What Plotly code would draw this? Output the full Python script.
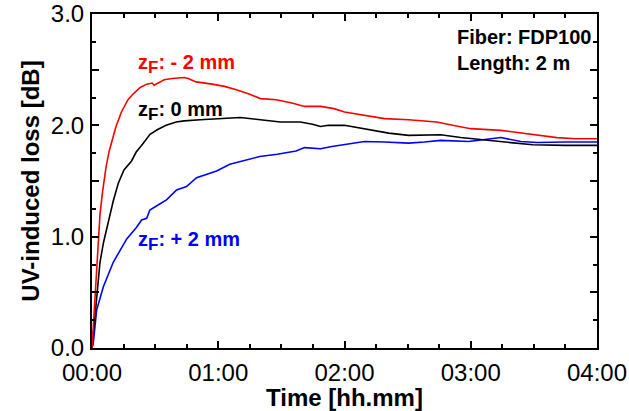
import plotly.graph_objects as go

# Time in minutes, UV-induced loss in dB
t_red = [0, 0.6, 1.5, 2.5, 3.8, 5, 6.7, 8.2, 10, 11.4, 14, 17.1, 20, 22.9, 26, 28.6, 29.5, 32, 34.3, 38,
         43.8, 45.7, 49.5, 57.1, 63, 68.6, 75, 80, 87.6, 95, 101, 108.6, 115, 120, 131.4, 139, 150.5,
         163.8, 171.4, 180, 194.3, 203.8, 212, 221, 230, 240]
v_red = [0, 0.2, 0.55, 0.88, 1.2, 1.4, 1.63, 1.77, 1.9, 1.99, 2.12, 2.23, 2.29, 2.34, 2.37, 2.38, 2.36, 2.39,
         2.41, 2.42, 2.43, 2.42, 2.39, 2.37, 2.35, 2.32, 2.28, 2.24, 2.23, 2.2, 2.17, 2.17, 2.15, 2.12,
         2.08, 2.06, 2.05, 2.03, 2.0, 1.97, 1.955, 1.93, 1.91, 1.89, 1.88, 1.88]

t_black = [0, 0.6, 2, 3.8, 5.5, 7, 10.1, 12.5, 15.2, 18.8, 21, 24, 27.6, 31, 35.2, 40, 43.8, 51.4, 62.9,
           70.5, 80, 89.5, 99, 104.8, 108.6, 112.4, 120, 131.4, 141, 150.5, 158, 165.7, 175.2, 184.8,
           194.3, 209.5, 225, 240]
v_black = [0, 0.13, 0.45, 0.77, 0.95, 1.07, 1.32, 1.48, 1.6, 1.68, 1.76, 1.83, 1.92, 1.96, 2.0, 2.03,
           2.04, 2.05, 2.06, 2.07, 2.05, 2.03, 2.03, 2.01, 1.99, 2.0, 2.0, 1.96, 1.93, 1.91, 1.915, 1.915,
           1.89, 1.87, 1.85, 1.825, 1.82, 1.82]

t_blue = [0, 0.6, 2.2, 5.4, 10.1, 16.5, 21, 23.6, 26, 27.5, 31, 35.4, 40.2, 44.9, 49.7, 55, 59.2, 65.5,
          72, 79.7, 88, 97, 101, 108.6, 114, 120, 129.5, 139, 150.5, 158, 165.7, 179, 186.7, 194.3,
          203.8, 211.4, 225, 240]
v_blue = [0, 0.04, 0.34, 0.55, 0.77, 0.98, 1.08, 1.15, 1.165, 1.24, 1.28, 1.33, 1.42, 1.45, 1.53, 1.56,
          1.59, 1.65, 1.68, 1.72, 1.74, 1.77, 1.80, 1.79, 1.81, 1.83, 1.855, 1.85, 1.84, 1.85, 1.865,
          1.855, 1.87, 1.89, 1.855, 1.846, 1.85, 1.85]

x_tickvals = [0, 60, 120, 180, 240]
x_ticktext = ["00:00", "01:00", "02:00", "03:00", "04:00"]
y_tickvals = [0, 0.5, 1.0, 1.5, 2.0, 2.5, 3.0]
y_ticktext = ["0.0", "", "1.0", "", "2.0", "", "3.0"]

FONT = "Liberation Sans, Arial, sans-serif"

fig = go.Figure()
for t, v, c in [(t_blue, v_blue, "#0000ff"), (t_black, v_black, "#000000"), (t_red, v_red, "#ff0000")]:
    fig.add_trace(go.Scatter(x=t, y=v, mode="lines", line=dict(color=c, width=1.6), showlegend=False))

axis_common = dict(showline=True, linecolor="black", linewidth=2, mirror="ticks", ticks="inside",
                   tickcolor="black", tickwidth=1.5, ticklen=7, showgrid=False, zeroline=False,
                   automargin=False,
                   tickfont=dict(family=FONT, size=24, color="black"))

fig.update_xaxes(range=[0, 240], tickvals=x_tickvals, ticktext=x_ticktext, ticklabelstandoff=2,
                 minor=dict(dtick=15, ticks="inside", ticklen=4, tickcolor="black", tickwidth=1.5),
                 title=dict(text="<b>Time [hh.mm]</b>", font=dict(family=FONT, size=24, color="black"),
                            standoff=0),
                 **axis_common)
fig.update_yaxes(range=[0, 3.0], tickvals=y_tickvals, ticktext=y_ticktext, ticklabelstandoff=1,
                 minor=dict(dtick=0.25, ticks="inside", ticklen=4, tickcolor="black", tickwidth=1.5),
                 title=dict(text="<b>UV-induced loss [dB]</b>", font=dict(family=FONT, size=24, color="black"),
                            standoff=4),
                 **axis_common)

SUB = "<sub><span style='font-size:17px'>F</span></sub>"
anns = [
    ("<b>z" + SUB + ": - 2 mm</b>", 21, 2.55, "#ff0000"),
    ("<b>z" + SUB + ": 0 mm</b>", 21, 2.13, "#000000"),
    ("<b>z" + SUB + ": + 2 mm</b>", 21, 0.96, "#0000ff"),
]
for text, x, y, c in anns:
    fig.add_annotation(x=x, y=y, xref="x", yref="y", text=text, showarrow=False, xanchor="left",
                       yanchor="middle", font=dict(family=FONT, size=20, color=c))

fig.add_annotation(x=172.5, y=2.79, xref="x", yref="y", text="<b>Fiber: FDP100</b>", showarrow=False,
                   xanchor="left", yanchor="middle", font=dict(family=FONT, size=20, color="black"))
fig.add_annotation(x=172.5, y=2.56, xref="x", yref="y", text="<b>Length: 2 m</b>", showarrow=False,
                   xanchor="left", yanchor="middle", font=dict(family=FONT, size=20, color="black"))

fig.update_layout(width=629, height=411, margin=dict(l=92, r=32, t=14, b=63),
                  plot_bgcolor="white", paper_bgcolor="white")

fig.write_html("out.html")
